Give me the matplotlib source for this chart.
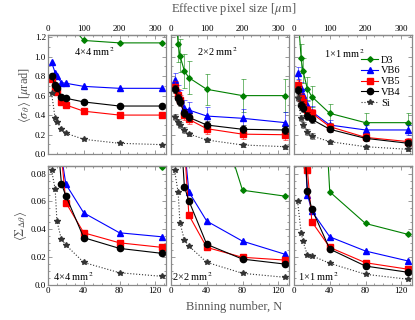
import matplotlib
matplotlib.use("Agg")
import matplotlib.pyplot as plt
from matplotlib.ticker import MultipleLocator, FixedLocator, FuncFormatter

plt.rcParams['font.family'] = ['Liberation Serif', 'DejaVu Serif']
plt.rcParams['mathtext.fontset'] = 'stix'

# binning numbers
N = [4, 8, 10, 15, 20, 40, 80, 128]
px_per_bin = 2.5  # effective pixel size [um] per binning step
top_ticks = [0, 100, 200, 300]

series = ['D3', 'VB6', 'VB5', 'VB4', 'Si']
panels = ['4\u00d74 mm$^2$', '2\u00d72 mm$^2$', '1\u00d71 mm$^2$']

# <sigma_theta> [urad], top row
sig_4x4 = {
    'D3':  [2.0, 1.8, 1.7, 1.5, 1.38, 1.167, 1.142, 1.142],
    'VB6': [0.943, 0.836, 0.80, 0.733, 0.727, 0.695, 0.675, 0.675],
    'VB5': [0.768, 0.686, 0.640, 0.538, 0.504, 0.44, 0.40, 0.40],
    'VB4': [0.80, 0.709, 0.675, 0.589, 0.573, 0.535, 0.493, 0.493],
    'Si':  [0.624, 0.367, 0.332, 0.257, 0.213, 0.151, 0.11, 0.096],
}
sig_2x2 = {
    'D3':  [1.6, 1.13, 1.01, 0.853, 0.784, 0.665, 0.60, 0.60],
    'VB6': [0.761, 0.641, 0.59, 0.47, 0.452, 0.39, 0.367, 0.322],
    'VB5': [0.692, 0.607, 0.555, 0.40, 0.356, 0.26, 0.204, 0.198],
    'VB4': [0.665, 0.579, 0.538, 0.418, 0.377, 0.298, 0.254, 0.247],
    'Si':  [0.38, 0.33, 0.30, 0.25, 0.206, 0.144, 0.093, 0.075],
}
sig_1x1 = {
    'D3':  [1.5, 0.984, 0.857, 0.668, 0.589, 0.418, 0.322, 0.322],
    'VB6': [0.829, 0.68, 0.607, 0.50, 0.435, 0.298, 0.247, 0.247],
    'VB5': [0.709, 0.572, 0.538, 0.452, 0.418, 0.281, 0.171, 0.127],
    'VB4': [0.658, 0.504, 0.47, 0.39, 0.356, 0.254, 0.161, 0.11],
    'Si':  [0.572, 0.367, 0.298, 0.229, 0.185, 0.127, 0.075, 0.048],
}
# error bars of the top row (4x4 has none visible)
err_2x2 = {
    'D3':  [0.18, 0.18, 0.17, 0.17, 0.17, 0.16, 0.17, 0.17],
    'VB6': [0.07, 0.07, 0.07, 0.08, 0.08, 0.09, 0.10, 0.11],
    'VB5': [0.06, 0.06, 0.05, 0.05, 0.05, 0.05, 0.05, 0.05],
    'VB4': [0.04, 0.04, 0.04, 0.04, 0.04, 0.04, 0.04, 0.04],
    'Si':  [0.03, 0.03, 0.03, 0.03, 0.02, 0.02, 0.02, 0.02],
}
err_1x1 = {
    'D3':  [0.15, 0.15, 0.13, 0.12, 0.11, 0.10, 0.10, 0.10],
    'VB6': [0.06, 0.06, 0.06, 0.06, 0.06, 0.05, 0.05, 0.05],
    'VB5': [0.05, 0.05, 0.05, 0.04, 0.04, 0.04, 0.04, 0.04],
    'VB4': [0.04, 0.04, 0.04, 0.04, 0.04, 0.03, 0.03, 0.03],
    'Si':  [0.03, 0.03, 0.03, 0.03, 0.03, 0.02, 0.02, 0.02],
}

# <Sigma_dtheta>, bottom row
Sig_4x4 = {
    'D3':  [1.0, 0.7, 0.6, 0.45, 0.4, 0.25, 0.13, 0.085],
    'VB6': [0.30, 0.17, 0.14, 0.093, 0.0724, 0.0518, 0.0375, 0.0346],
    'VB5': [0.28, 0.16, 0.13, 0.093, 0.0592, 0.0375, 0.0303, 0.027],
    'VB4': [0.25, 0.14, 0.11, 0.0728, 0.064, 0.034, 0.0263, 0.0227],
    'Si':  [0.0824, 0.069, 0.0459, 0.0327, 0.0287, 0.0162, 0.0088, 0.0062],
}
Sig_2x2 = {
    'D3':  [1.0, 0.7, 0.6, 0.4, 0.3, 0.15, 0.0681, 0.0638],
    'VB6': [0.30, 0.20, 0.15, 0.10, 0.0669, 0.0459, 0.0315, 0.022],
    'VB5': [0.28, 0.18, 0.14, 0.10, 0.0502, 0.027, 0.0199, 0.0179],
    'VB4': [0.25, 0.16, 0.12, 0.0705, 0.0605, 0.0292, 0.0186, 0.015],
    'Si':  [0.0824, 0.0665, 0.0447, 0.0323, 0.028, 0.0163, 0.0084, 0.0055],
}
Sig_1x1 = {
    'D3':  [1.0, 0.7, 0.6, 0.45, 0.3, 0.0669, 0.0442, 0.0363],
    'VB6': [0.30, 0.17, 0.12, 0.065, 0.053, 0.0346, 0.0244, 0.0172],
    'VB5': [0.30, 0.20, 0.15, 0.0824, 0.0454, 0.027, 0.016, 0.0113],
    'VB4': [0.28, 0.17, 0.12, 0.0674, 0.0545, 0.0258, 0.0136, 0.0091],
    'Si':  [0.0602, 0.0375, 0.0315, 0.0215, 0.021, 0.0156, 0.0077, 0.0041],
}

top_data = [sig_4x4, sig_2x2, sig_1x1]
top_err = [None, err_2x2, err_1x1]
bot_data = [Sig_4x4, Sig_2x2, Sig_1x1]

style = {
    'D3':  dict(color='#008000', marker='D', ms=2.8, ls='-'),
    'VB6': dict(color='#0000ff', marker='^', ms=4.5, ls='-'),
    'VB5': dict(color='#ff0000', marker='s', ms=4.0, ls='-'),
    'VB4': dict(color='black', marker='o', ms=4.5, ls='-'),
    'Si':  dict(color='#333333', marker='*', ms=4.2, ls=':'),
}

W, H = 415, 320
fig = plt.figure(figsize=(W / 100, H / 100), dpi=100)
lefts = [48, 171, 294]
pw = 118
frame = '#8a8a8a'


def setup(ax, ylim, major, minor, top_labels, left_labels, bottom_labels, fmt):
    ax.set_xlim(0, 132)
    ax.set_ylim(*ylim)
    ax.xaxis.set_major_locator(MultipleLocator(40))
    ax.xaxis.set_minor_locator(MultipleLocator(10))
    ax.yaxis.set_major_locator(MultipleLocator(major))
    ax.yaxis.set_minor_locator(MultipleLocator(minor))
    ax.yaxis.set_major_formatter(FuncFormatter(fmt))
    for s in ax.spines.values():
        s.set_color(frame)
        s.set_linewidth(0.9)
    ax.tick_params(which='both', direction='in', right=True, color=frame,
                   labelsize=6.5, pad=1.5, labelleft=left_labels,
                   labelbottom=bottom_labels, width=0.6)
    ax.tick_params(which='major', length=3)
    ax.tick_params(which='minor', length=1.5)
    sec = ax.secondary_xaxis('top', functions=(lambda n: n * px_per_bin,
                                               lambda p: p / px_per_bin))
    sec.xaxis.set_major_locator(FixedLocator(top_ticks))
    sec.xaxis.set_minor_locator(MultipleLocator(25))
    sec.spines['top'].set_color(frame)
    sec.spines['top'].set_linewidth(0.9)
    sec.tick_params(which='both', direction='in', color=frame, labelsize=6.5,
                    pad=1.5, labeltop=top_labels, width=0.6)
    sec.tick_params(which='major', length=3)
    sec.tick_params(which='minor', length=1.5)
    if not top_labels:
        sec.set_xticklabels([])


def fmt_top(v, pos):
    return '%.1f' % v


def fmt_bot(v, pos):
    return '0.0' if abs(v) < 1e-9 else '%.2f' % v


top_text_pos = [(0.22, 0.86), (0.22, 0.86), (0.25, 0.84)]
bot_text_pos = [(0.04, 0.07), (0.01, 0.07), (0.03, 0.07)]

for i in range(3):
    # top row
    ax = fig.add_axes([lefts[i] / W, (H - 154) / H, pw / W, 119 / H])
    for s in series:
        st = style[s]
        errs = top_err[i]
        if errs is not None:
            ax.errorbar(N, top_data[i][s], yerr=errs[s], fmt='none',
                        ecolor=st['color'], elinewidth=0.7, capsize=1.8,
                        capthick=0.7, alpha=0.55)
        ax.plot(N, top_data[i][s], color=st['color'], marker=st['marker'],
                ms=st['ms'], ls=st['ls'], lw=0.8, label=s)
    setup(ax, (0, 1.223), 0.2, 0.1, True, i == 0, False, fmt_top)
    ax.text(top_text_pos[i][0], top_text_pos[i][1], panels[i], transform=ax.transAxes,
            fontsize=7.5, va='center')
    if i == 0:
        ax.set_ylabel(r'$\langle\sigma_\theta\rangle$ [$\mu$rad]', fontsize=9,
                      color='#555555', labelpad=1)
    if i == 2:
        ax.legend(loc='upper left', bbox_to_anchor=(0.57, 0.83), frameon=False,
                  fontsize=7.5, handlelength=1.6, handletextpad=0.3,
                  labelspacing=0.15, borderpad=0, borderaxespad=0)

    # bottom row
    ax = fig.add_axes([lefts[i] / W, (H - 285) / H, pw / W, 119 / H])
    for s in series:
        st = style[s]
        ax.plot(N, bot_data[i][s], color=st['color'], marker=st['marker'],
                ms=st['ms'], ls=st['ls'], lw=0.8)
    setup(ax, (0, 0.0855), 0.02, 0.005, False, i == 0, True, fmt_bot)
    ax.text(bot_text_pos[i][0], bot_text_pos[i][1], panels[i], transform=ax.transAxes,
            fontsize=7.5, va='center')
    if i == 0:
        ax.set_ylabel(r'$\langle\Sigma_{\Delta\theta}\rangle$', fontsize=9,
                      color='#555555', labelpad=1)

fig.text(234 / W, 1 - 9 / H, r'Effective pixel size [$\mu$m]', ha='center',
         va='center', fontsize=9, color='#555555')
fig.text(234 / W, 1 - 307 / H, 'Binning number, N', ha='center',
         va='center', fontsize=9, color='#555555')

fig.savefig('out.png', dpi=100)
